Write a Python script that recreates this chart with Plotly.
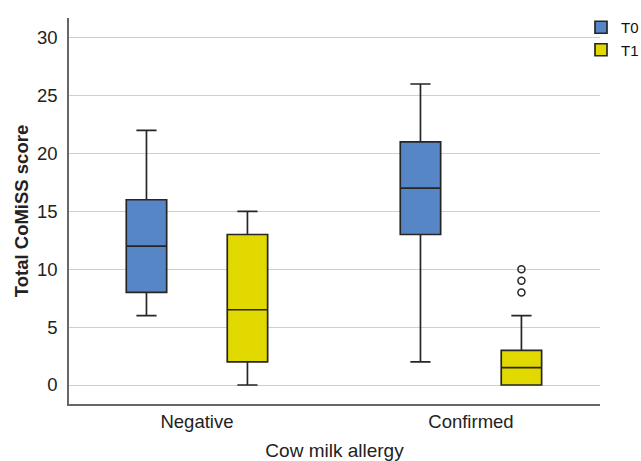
import plotly.graph_objects as go

# Groups on the x axis
categories = ["Negative", "Confirmed"]

# Box statistics for each time point (one value per group)
t0_lower = [6, 2]
t0_q1 = [8, 13]
t0_median = [12, 17]
t0_q3 = [16, 21]
t0_upper = [22, 26]

t1_lower = [0, 0]
t1_q1 = [2, 0]
t1_median = [6.5, 1.5]
t1_q3 = [13, 3]
t1_upper = [15, 6]

# Outlying observations (T1, confirmed group)
t1_outlier_groups = ["Confirmed", "Confirmed", "Confirmed"]
t1_outlier_values = [8, 9, 10]

y_ticks = [0, 5, 10, 15, 20, 25, 30]

BLUE = "#5686c6"
YELLOW = "#e2d900"
EDGE = "#262626"
FONT = "Liberation Sans, Arial, Helvetica, sans-serif"

fig = go.Figure()

fig.add_trace(go.Box(
    name="T0",
    x=categories,
    q1=t0_q1, median=t0_median, q3=t0_q3,
    lowerfence=t0_lower, upperfence=t0_upper,
    fillcolor=BLUE,
    line=dict(color=EDGE, width=1.7),
    whiskerwidth=0.5,
    boxpoints=False,
    offsetgroup="T0",
))

fig.add_trace(go.Box(
    name="T1",
    x=categories,
    q1=t1_q1, median=t1_median, q3=t1_q3,
    lowerfence=t1_lower, upperfence=t1_upper,
    fillcolor=YELLOW,
    line=dict(color=EDGE, width=1.7),
    whiskerwidth=0.5,
    boxpoints=False,
    offsetgroup="T1",
))

# Outliers share the T1 slot; only the points are shown
fig.add_trace(go.Box(
    name="T1",
    x=t1_outlier_groups,
    y=t1_outlier_values,
    fillcolor="rgba(0,0,0,0)",
    line=dict(color="rgba(0,0,0,0)", width=0),
    boxpoints="all",
    jitter=0,
    pointpos=0,
    marker=dict(symbol="circle-open", size=7, color=EDGE,
                line=dict(width=1.5, color=EDGE)),
    offsetgroup="T1",
    showlegend=False,
    hoverinfo="y",
))

fig.update_layout(
    width=641, height=461,
    margin=dict(l=69, r=41, t=18, b=57, autoexpand=False),
    paper_bgcolor="white",
    plot_bgcolor="white",
    boxmode="group",
    boxgap=0.263,
    boxgroupgap=0.6,
    font=dict(family=FONT, size=18, color="#222222"),
    showlegend=True,
    legend=dict(
        xref="container", yref="container",
        x=581 / 641, y=1 - 11 / 461, xanchor="left", yanchor="top",
        font=dict(size=15, color="#111111"),
        bgcolor="rgba(0,0,0,0)",
        itemwidth=30,
        tracegroupgap=0,
    ),
    xaxis=dict(
        type="category",
        categoryorder="array",
        categoryarray=categories,
        range=[-0.467, 1.471],
        showline=True, linecolor="#666666", linewidth=1.5,
        showgrid=False, ticks="", zeroline=False,
        automargin=False,
        tickfont=dict(size=18.5),
        ticklabelstandoff=0,
        title=dict(text="Cow milk allergy", font=dict(size=19), standoff=20),
    ),
    yaxis=dict(
        range=[-1.64, 31.7],
        tickvals=y_ticks,
        showline=True, linecolor="#666666", linewidth=1.5,
        showgrid=True, gridcolor="#cfcfcf", gridwidth=1.2,
        ticks="", zeroline=False,
        automargin=False,
        tickfont=dict(size=18.5),
        ticklabelstandoff=6,
        title=dict(text="<b>Total CoMiSS score</b>", font=dict(size=18.5), standoff=3),
    ),
)

fig.write_html("out.html")
